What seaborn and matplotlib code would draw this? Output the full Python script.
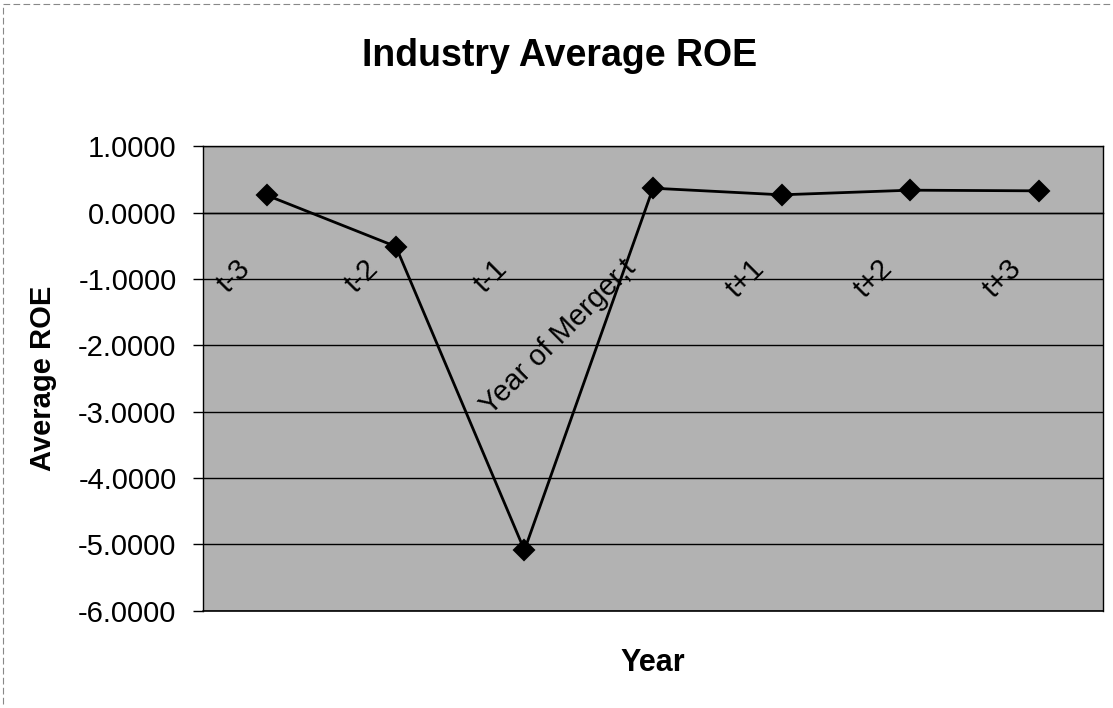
import numpy as np
import pandas as pd
import matplotlib.pyplot as plt
import seaborn as sns
from matplotlib.ticker import FormatStrFormatter
from matplotlib.transforms import ScaledTranslation
from matplotlib.lines import Line2D

# data
years = ["t-3", "t-2", "t-1", "Year of Merger,t", "t+1", "t+2", "t+3"]
avg_roe = [0.26, -0.51, -5.09, 0.37, 0.27, 0.34, 0.33]
y_ticks = [1, 0, -1, -2, -3, -4, -5, -6]

sns.set_style("white")
plt.rcParams['font.family'] = ['Liberation Sans', 'DejaVu Sans']
plt.rcParams['text.color'] = 'black'
plt.rcParams['axes.labelcolor'] = 'black'
plt.rcParams['xtick.color'] = 'black'
plt.rcParams['ytick.color'] = 'black'

fig, ax = plt.subplots(figsize=(11.13, 7.08), dpi=100)
fig.subplots_adjust(left=0.1824, right=0.991, bottom=0.1376, top=0.7932)
ax.set_facecolor('#b2b2b2')

# the line with diamond markers
sns.pointplot(x=years, y=avg_roe, color='black', markers='D', linestyles='-',
              errorbar=None, markersize=10, linewidth=2, ax=ax)

ax.set_xlim(-0.5, len(years) - 0.5)
ax.set_ylim(min(y_ticks), max(y_ticks))
ax.set_yticks(y_ticks)
ax.yaxis.set_major_formatter(FormatStrFormatter('%.4f'))

# gridlines
ax.set_axisbelow(True)
ax.yaxis.grid(True, color='black', linewidth=1.0)
ax.xaxis.grid(False)
ax.axhline(min(y_ticks), color='black', linewidth=1.2, clip_on=False, zorder=0.5)

# spines - category axis crosses at zero
for s in ['left', 'right', 'top']:
    ax.spines[s].set_color('black')
    ax.spines[s].set_linewidth(1.0)
ax.spines['bottom'].set_position(('data', 0))
ax.spines['bottom'].set_color('black')
ax.spines['bottom'].set_linewidth(1.0)

# category ticks between categories
ax.set_xticks(np.arange(len(years) + 1) - 0.5, minor=True)
ax.tick_params(axis='x', which='minor', length=6, width=1, direction='out', color='black')
ax.tick_params(axis='x', which='major', length=0, pad=30, labelsize=21, labelrotation=45)
for lab in ax.get_xticklabels():
    lab.set_ha('right')
    lab.set_va('top')
    lab.set_transform(lab.get_transform() + ScaledTranslation(-0.12, 0, fig.dpi_scale_trans))

ax.tick_params(axis='y', length=7, width=1, direction='out', pad=12, labelsize=21, color='black')
ax.tick_params(left=True)

ax.set_xlabel('Year', fontsize=22, fontweight='bold')
ax.xaxis.set_label_coords(0.5, -0.081)
ax.set_ylabel('Average ROE', fontsize=21, fontweight='bold')
ax.yaxis.set_label_coords(-0.162, 0.5)

fig.suptitle('Industry Average ROE', fontsize=27, fontweight='bold', x=0.503, y=0.921, va='center')

# faint chart-area border (top and left)
fig.add_artist(Line2D([0.003, 0.997], [0.995, 0.995], transform=fig.transFigure,
                      color='#888888', lw=0.8, ls=(0, (6, 3))))
fig.add_artist(Line2D([0.003, 0.003], [0.005, 0.995], transform=fig.transFigure,
                      color='#888888', lw=0.8, ls=(0, (6, 3))))

fig.savefig('out.png', dpi=100)
